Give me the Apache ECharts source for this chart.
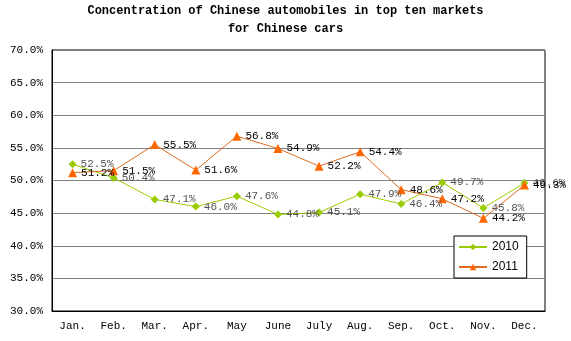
<!DOCTYPE html>
<html><head><meta charset="utf-8">
<script src="https://cdn.jsdelivr.net/npm/echarts@6/dist/echarts.min.js"></script>
<style>html,body{margin:0;padding:0;background:#fff}#c{width:571px;height:341px}</style>
</head><body><div id="c"></div>
<script>
const months = ["Jan.","Feb.","Mar.","Apr.","May","June","July","Aug.","Sep.","Oct.","Nov.","Dec."];
const s2010 = [52.5,50.4,47.1,46.0,47.6,44.8,45.1,47.9,46.4,49.7,45.8,49.6];
const s2011 = [51.2,51.5,55.5,51.6,56.8,54.9,52.2,54.4,48.6,47.2,44.2,49.3];
const yTicks = {min:30, max:70, interval:5};
const mono = "'Liberation Mono','Courier New',monospace";
const chart = echarts.init(document.getElementById('c'), null, {renderer:'canvas'});
chart.setOption({
  animation:false,
  title:{
    text:"Concentration of Chinese automobiles in top ten markets\nfor Chinese cars",
    left:'center', top:2, padding:0,
    textStyle:{fontFamily:mono, fontSize:12, fontWeight:'bold', color:'#000', lineHeight:18}
  },
  grid:{left:52, right:26, top:50, bottom:30, show:true, borderColor:'#000', borderWidth:1},
  legend:{
    orient:'vertical', left:454, top:236,
    backgroundColor:'#fff', borderColor:'#000', borderWidth:1,
    padding:[5,8,5,4], itemGap:8, itemWidth:28, itemHeight:8,
    textStyle:{fontFamily:"'Liberation Sans',Arial,sans-serif", fontSize:12, color:'#000'},
    data:['2010','2011']
  },
  xAxis:{
    type:'category', data:months, boundaryGap:true,
    axisLine:{lineStyle:{color:'#000'}},
    axisTick:{inside:true, length:4, lineStyle:{color:'#000'}},
    axisLabel:{fontFamily:mono, fontSize:11, color:'#000', margin:10}
  },
  yAxis:{
    type:'value', min:yTicks.min, max:yTicks.max, interval:yTicks.interval,
    axisLine:{show:true, lineStyle:{color:'#000'}},
    axisTick:{show:false},
    splitLine:{lineStyle:{color:'#808080'}},
    axisLabel:{fontFamily:mono, fontSize:11, color:'#000', margin:9,
      formatter:v=>v.toFixed(1)+'%'}
  },
  series:[
    {name:'2010', type:'line', data:s2010, symbol:'diamond', symbolSize:8,
     lineStyle:{color:'#99CC00', width:1}, itemStyle:{color:'#99CC00'},
     label:{show:true, position:'right', distance:4, fontFamily:mono, fontSize:11, color:'#555',
       formatter:p=>p.value.toFixed(1)+'%'}},
    {name:'2011', type:'line', data:s2011, symbol:'triangle', symbolSize:9,
     lineStyle:{color:'#E06A1E', width:1}, itemStyle:{color:'#FF6600'},
     label:{show:true, position:'right', distance:4, fontFamily:mono, fontSize:11, color:'#000',
       formatter:p=>p.value.toFixed(1)+'%'}}
  ]
});
</script></body></html>
